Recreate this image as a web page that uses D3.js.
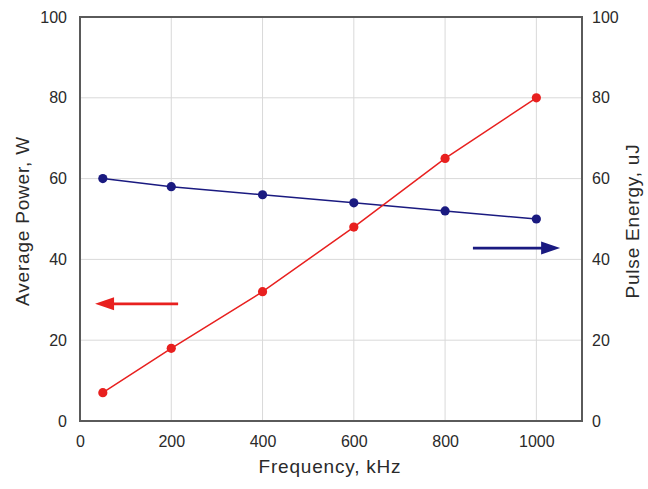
<!DOCTYPE html>
<html>
<head>
<meta charset="utf-8">
<script src="https://cdn.jsdelivr.net/npm/d3@7"></script>
<style>
  html, body { margin: 0; padding: 0; background: #fff; }
  svg { display: block; font-family: "Liberation Sans", Arial, sans-serif; }
</style>
</head>
<body>
<svg id="chart" width="648" height="489"></svg>
<script>
// Frequency (kHz) at which both quantities were measured
const frequency = [50, 200, 400, 600, 800, 1000];
// Average power, W (left axis)
const averagePower = [7, 18, 32, 48, 65, 80];
// Pulse energy, uJ (right axis)
const pulseEnergy = [60, 58, 56, 54, 52, 50];

const xTicks = [0, 200, 400, 600, 800, 1000];
const yTicks = [0, 20, 40, 60, 80, 100];

// Annotation arrows pointing to the axis each series belongs to
const powerArrow = { from: [215, 29], to: [33, 29] };
const energyArrow = { from: [861, 42.8], to: [1052, 42.8] };

const W = 648, H = 489;
const margin = { left: 80, right: 66, top: 17, bottom: 68 };
const svg = d3.select("#chart");

const x = d3.scaleLinear().domain([0, 1100]).range([margin.left, W - margin.right]);
const yL = d3.scaleLinear().domain([0, 100]).range([H - margin.bottom, margin.top]);
const yR = d3.scaleLinear().domain([0, 100]).range([H - margin.bottom, margin.top]);

const RED = "#e8201f", BLUE = "#1a1a80", GRID = "#d9d9d9", FRAME = "#5a5a5a", TEXT = "#2a2a2a";

// Gridlines
svg.append("g").selectAll("line").data(xTicks.filter(d => d > 0)).join("line")
  .attr("x1", d => x(d)).attr("x2", d => x(d))
  .attr("y1", yL(0)).attr("y2", yL(100))
  .attr("stroke", GRID).attr("stroke-width", 1);
svg.append("g").selectAll("line").data(yTicks.filter(d => d > 0 && d < 100)).join("line")
  .attr("x1", x(0)).attr("x2", x(1100))
  .attr("y1", d => yL(d)).attr("y2", d => yL(d))
  .attr("stroke", GRID).attr("stroke-width", 1);

// Axes (tick marks hidden; labels only)
const tickStyle = g => {
  g.select(".domain").remove();
  g.selectAll(".tick line").remove();
  g.selectAll(".tick text").attr("fill", TEXT).style("font-size", "16px")
    .style("font-family", "\"Liberation Sans\", Arial, sans-serif");
};
const fmt = d3.format("d");
svg.append("g").attr("transform", `translate(0,${yL(0)})`)
  .call(d3.axisBottom(x).tickValues(xTicks).tickFormat(fmt).tickSize(0).tickPadding(15))
  .call(tickStyle);
svg.append("g").attr("transform", `translate(${x(0)},0)`)
  .call(d3.axisLeft(yL).tickValues(yTicks).tickFormat(fmt).tickSize(0).tickPadding(13))
  .call(tickStyle);
svg.append("g").attr("transform", `translate(${x(1100)},0)`)
  .call(d3.axisRight(yR).tickValues(yTicks).tickFormat(fmt).tickSize(0).tickPadding(10))
  .call(tickStyle);

// Plot frame
svg.append("rect")
  .attr("x", x(0)).attr("y", yL(100))
  .attr("width", x(1100) - x(0)).attr("height", yL(0) - yL(100))
  .attr("fill", "none").attr("stroke", FRAME).attr("stroke-width", 2);

// Series: connecting line plus round markers
function series(values, scale, color) {
  const pts = frequency.map((f, i) => [f, values[i]]);
  svg.append("path").datum(pts)
    .attr("fill", "none").attr("stroke", color).attr("stroke-width", 1.5)
    .attr("d", d3.line().x(d => x(d[0])).y(d => scale(d[1])));
  svg.append("g").selectAll("circle").data(pts).join("circle")
    .attr("cx", d => x(d[0])).attr("cy", d => scale(d[1]))
    .attr("r", 4.6).attr("fill", color);
}
series(pulseEnergy, yR, BLUE);
series(averagePower, yL, RED);

// Horizontal arrows: shaft plus a filled triangular head at the tip
function arrow(color, a, scale) {
  const x0 = x(a.from[0]), x1 = x(a.to[0]), yy = scale(a.from[1]);
  const dir = Math.sign(x1 - x0), headLen = 19, headHalf = 6.5;
  const g = svg.append("g");
  g.append("line")
    .attr("x1", x0).attr("y1", yy).attr("x2", x1 - dir * headLen * 0.9).attr("y2", yy)
    .attr("stroke", color).attr("stroke-width", 2.6);
  g.append("path")
    .attr("d", `M${x1},${yy} L${x1 - dir * headLen},${yy - headHalf} L${x1 - dir * headLen},${yy + headHalf} Z`)
    .attr("fill", color);
}
arrow(RED, powerArrow, yL);
arrow(BLUE, energyArrow, yR);

// Axis titles
const titleStyle = t => t.attr("text-anchor", "middle").attr("fill", TEXT)
  .style("font-size", "19px").style("letter-spacing", "0.8px");
svg.append("text").attr("x", (x(0) + x(1100)) / 2 - 1).attr("y", 473)
  .call(titleStyle).text("Frequency, kHz");
svg.append("text")
  .attr("transform", `translate(29,${(yL(0) + yL(100)) / 2 + 2}) rotate(-90)`)
  .call(titleStyle).text("Average Power, W");
svg.append("text")
  .attr("transform", `translate(639,${(yL(0) + yL(100)) / 2 + 2}) rotate(-90)`)
  .call(titleStyle).text("Pulse Energy, uJ");
</script>
</body>
</html>
